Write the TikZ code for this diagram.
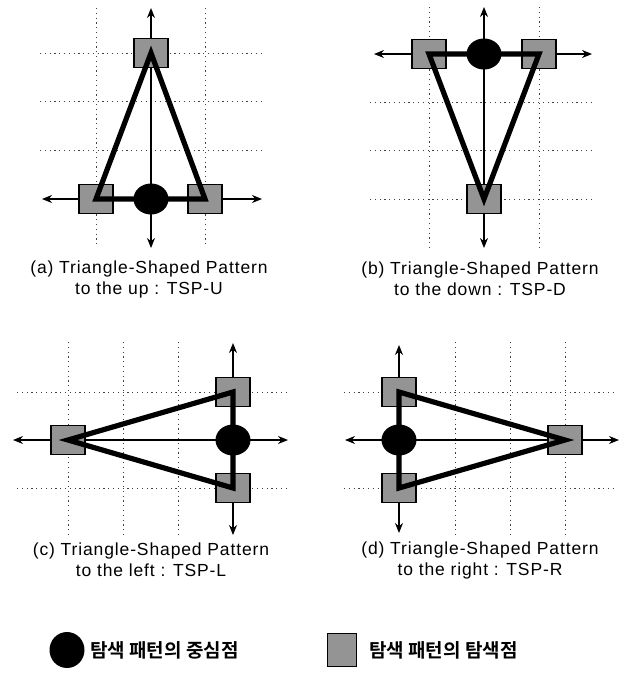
\documentclass[tikz,border=0pt]{standalone}
\usepackage{fontspec}
\setmainfont{Liberation Sans}
\newfontfamily\capfont[LetterSpace=5]{Liberation Sans}
\newfontfamily\krfont{Noto Sans CJK KR Bold}
\usetikzlibrary{arrows.meta,shapes.geometric}
\begin{document}
\begin{tikzpicture}[x=1pt,y=-1pt,
  gridline/.style={draw=black!75, line width=0.9pt, dash pattern=on 1.2pt off 3.6pt},
  axis/.style={draw=black, line width=1.2pt, {Stealth[length=10pt,width=8pt]}-{Stealth[length=10pt,width=8pt]}},
  searchpt/.style={draw=black, line width=1.6pt, fill=black!42, minimum width=34pt, minimum height=29pt, inner sep=0pt},
  centerpt/.style={ellipse, fill=black, minimum width=35pt, minimum height=31pt, inner sep=0pt},
  tri/.style={draw=black, line width=5.2pt, line join=miter},
  caption/.style={font=\capfont\fontsize{17.5}{21}\selectfont, align=center, inner sep=0pt},
  legend/.style={font=\krfont\fontsize{19}{21}\selectfont, anchor=west, inner sep=0pt}]
\useasboundingbox (0,0) rectangle (624,673);

% ---------- (a) TSP-U ----------
\foreach \x in {96,205} \draw[gridline] (\x,8) -- (\x,248);
\foreach \y in {53,101,150} \draw[gridline] (40,\y) -- (263,\y);
\coordinate (aN) at (151,8);  \coordinate (aS) at (151,248);
\coordinate (aW) at (42,199); \coordinate (aE) at (262,199);
\draw[axis] (aS) -- (aN);
\draw[axis] (aW) -- (aE);
\node[searchpt] (a1) at (151,53) {};
\node[searchpt] (a2) at (96,199) {};
\node[searchpt] (a3) at (205,199) {};
\node[centerpt] (a0) at (151,199) {};
\draw[tri] (a1.center) -- (a2.center) -- (a3.center) -- cycle;
\node[caption] (acap) at (149,279) {(a) Triangle-Shaped Pattern\\to the up : TSP-U};

% ---------- (b) TSP-D ----------
\foreach \x in {429,539} \draw[gridline] (\x,7) -- (\x,248);
\foreach \y in {102,150,199} \draw[gridline] (370,\y) -- (594,\y);
\coordinate (bN) at (484,7);   \coordinate (bS) at (484,248);
\coordinate (bW) at (374,54);  \coordinate (bE) at (592,54);
\draw[axis] (bS) -- (bN);
\draw[axis] (bW) -- (bE);
\node[searchpt] (b1) at (429,54) {};
\node[searchpt] (b2) at (539,54) {};
\node[searchpt] (b3) at (484,199) {};
\node[centerpt] (b0) at (484,54) {};
\draw[tri] (b1.center) -- (b2.center) -- (b3.center) -- cycle;
\node[caption] (bcap) at (480,279) {(b) Triangle-Shaped Pattern\\to the down : TSP-D};

% ---------- (c) TSP-L ----------
\foreach \x in {68,123,178} \draw[gridline] (\x,342) -- (\x,538);
\foreach \y in {392,488} \draw[gridline] (17,\y) -- (288,\y);
\coordinate (cN) at (233,343); \coordinate (cS) at (233,535);
\coordinate (cW) at (13,440);  \coordinate (cE) at (288,440);
\draw[axis] (cS) -- (cN);
\draw[axis] (cW) -- (cE);
\node[searchpt] (c1) at (68,440) {};
\node[searchpt] (c2) at (233,392) {};
\node[searchpt] (c3) at (233,488) {};
\node[centerpt] (c0) at (233,440) {};
\draw[tri] (c1.center) -- (c2.center) -- (c3.center) -- cycle;
\node[caption] (ccap) at (151,560) {(c) Triangle-Shaped Pattern\\to the left : TSP-L};

% ---------- (d) TSP-R ----------
\foreach \x in {455,510,565} \draw[gridline] (\x,342) -- (\x,538);
\foreach \y in {392,488} \draw[gridline] (344,\y) -- (617,\y);
\coordinate (dN) at (399,345); \coordinate (dS) at (399,533);
\coordinate (dW) at (345,440); \coordinate (dE) at (619,440);
\draw[axis] (dS) -- (dN);
\draw[axis] (dW) -- (dE);
\node[searchpt] (d1) at (399,392) {};
\node[searchpt] (d2) at (399,488) {};
\node[searchpt] (d3) at (565,440) {};
\node[centerpt] (d0) at (399,440) {};
\draw[tri] (d1.center) -- (d3.center) -- (d2.center) -- cycle;
\node[caption] (dcap) at (480,560) {(d) Triangle-Shaped Pattern\\to the right : TSP-R};

% ---------- legend ----------
\node[centerpt, minimum width=35pt, minimum height=36pt] (lc) at (67,650) {};
\node[legend] (lct) at (90,650) {탐색 패턴의 중심점};
\node[searchpt, minimum width=29pt, minimum height=33pt, line width=1.2pt] (ls) at (342,650) {};
\node[legend] (lst) at (369,650) {탐색 패턴의 탐색점};
\end{tikzpicture}
\end{document}
